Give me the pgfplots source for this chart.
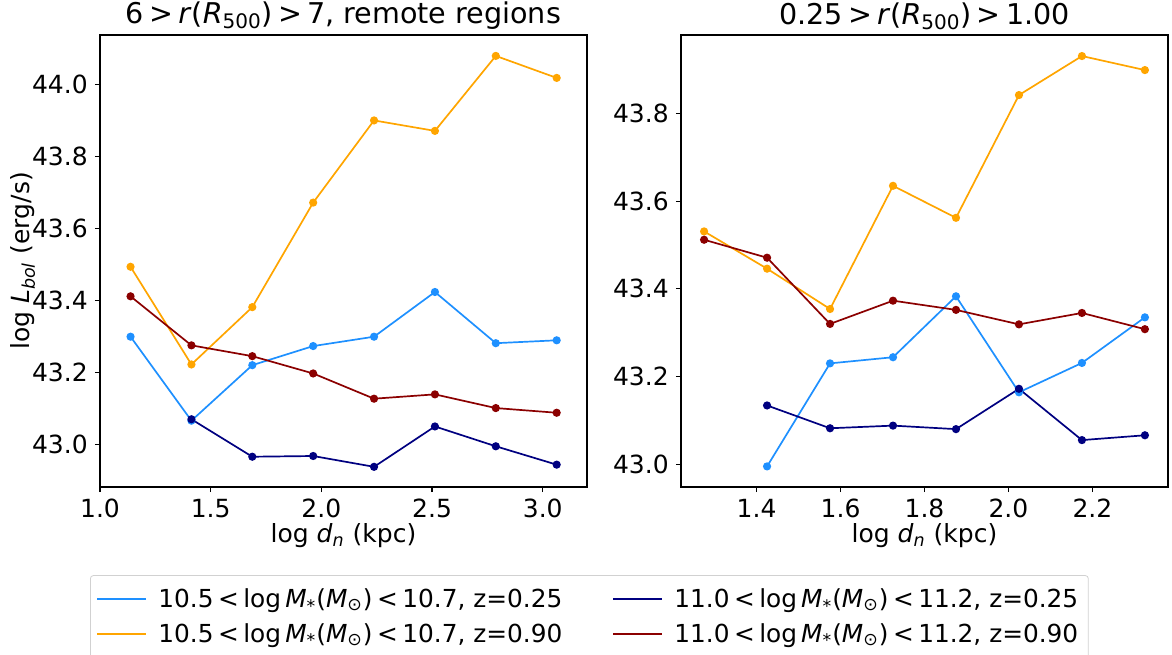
\documentclass[border=0pt]{standalone}
\usepackage{fontspec}
\setmainfont{DejaVu Sans}
\usepackage{pgfplots}
\pgfplotsset{compat=1.18}
\definecolor{cblue}{RGB}{30,144,255}
\definecolor{corange}{RGB}{255,165,0}
\definecolor{cnavy}{RGB}{0,0,128}
\definecolor{cred}{RGB}{139,0,0}
\newcommand{\rel}[1]{\hspace{0.18em}#1\hspace{0.18em}}
\pgfplotsset{
  mystyle/.style={
    scale only axis, width=243.5pt, height=226pt,
    axis line style={line width=0.6pt},
    tick align=outside, xtick pos=left, ytick pos=left,
    major tick length=2.6pt,
    tick style={black, line width=0.6pt},
    tick label style={font=\fontsize{12.5}{15}\selectfont},
    label style={font=\fontsize{12.5}{15}\selectfont},
    title style={font=\fontsize{14.3}{17}\selectfont, yshift=-7pt},
    xlabel style={yshift=4pt},
    /pgf/number format/assume math mode=true,
    xticklabel style={/pgf/number format/.cd,fixed,fixed zerofill,precision=1},
    yticklabel style={/pgf/number format/.cd,fixed,fixed zerofill,precision=1},
    xlabel={log \textit{d}\textsubscript{\textit{n}} (kpc)},
    every axis plot/.append style={line width=0.85pt, mark=*, mark size=1.6pt},
    legend image code/.code={\draw[#1, line width=1pt] (0pt,0pt) -- (24.5pt,0pt); \path[draw=none, fill=none] (0pt,0pt) -- (28.5pt,0pt);},
  }
}
\begin{document}
\begin{tikzpicture}
\useasboundingbox (-50pt,-83.5pt) rectangle (536pt,243.5pt);
\begin{axis}[mystyle,
  xmin=1.0, xmax=3.2, ymin=42.883, ymax=44.137,
  xtick={1.0,1.5,2.0,2.5,3.0},
  ytick={43.0,43.2,43.4,43.6,43.8,44.0},
  title={6\rel{>}\textit{r}(\textit{R}\textsubscript{500})\rel{>}7, remote regions},
  ylabel={log \textit{L}\textsubscript{\textit{bol}} (erg/s)},
  ylabel style={at={(axis description cs:-0.158,0.5)}, anchor=center},
  legend columns=2,
  legend cell align=left,
  legend style={at={(-0.0205,-0.195)}, anchor=north west,
    draw=black!18, rounded corners=1.5pt, inner xsep=3pt, inner ysep=4.5pt,
    font=\fontsize{12.4}{14}\selectfont,
    row sep=2.5pt,
    /tikz/every even column/.append style={column sep=23pt}},
]
\addplot[cblue, mark options={fill=cblue}] coordinates {
(1.138,43.300) (1.413,43.067) (1.688,43.221) (1.963,43.274) (2.238,43.300) (2.513,43.424) (2.788,43.282) (3.063,43.290)};
\addlegendentry{10.5\rel{<}log\,\textit{M}\textsubscript{*}(\textit{M}\textsubscript{⊙})\rel{<}10.7, z=0.25}
\addplot[cnavy, mark options={fill=cnavy}] coordinates {
(1.413,43.071) (1.688,42.967) (1.963,42.969) (2.238,42.939) (2.513,43.051) (2.788,42.996) (3.063,42.945)};
\addlegendentry{11.0\rel{<}log\,\textit{M}\textsubscript{*}(\textit{M}\textsubscript{⊙})\rel{<}11.2, z=0.25}
\addplot[corange, mark options={fill=corange}] coordinates {
(1.138,43.494) (1.413,43.223) (1.688,43.382) (1.963,43.672) (2.238,43.900) (2.513,43.871) (2.788,44.079) (3.063,44.018)};
\addlegendentry{10.5\rel{<}log\,\textit{M}\textsubscript{*}(\textit{M}\textsubscript{⊙})\rel{<}10.7, z=0.90}
\addplot[cred, mark options={fill=cred}] coordinates {
(1.138,43.412) (1.413,43.276) (1.688,43.246) (1.963,43.198) (2.238,43.128) (2.513,43.140) (2.788,43.102) (3.063,43.089)};
\addlegendentry{11.0\rel{<}log\,\textit{M}\textsubscript{*}(\textit{M}\textsubscript{⊙})\rel{<}11.2, z=0.90}
\end{axis}
\begin{axis}[mystyle, at={(290.5pt,0pt)},
  xmin=1.220, xmax=2.380, ymin=42.948, ymax=43.979,
  xtick={1.4,1.6,1.8,2.0,2.2},
  ytick={43.0,43.2,43.4,43.6,43.8},
  title={0.25\rel{>}\textit{r}(\textit{R}\textsubscript{500})\rel{>}1.00},
]
\addplot[cblue, mark options={fill=cblue}] coordinates {
(1.425,42.995) (1.575,43.230) (1.725,43.244) (1.875,43.383) (2.025,43.164) (2.175,43.231) (2.325,43.335)};
\addplot[corange, mark options={fill=corange}] coordinates {
(1.275,43.531) (1.425,43.446) (1.575,43.354) (1.725,43.635) (1.875,43.562) (2.025,43.842) (2.175,43.931) (2.325,43.899)};
\addplot[cnavy, mark options={fill=cnavy}] coordinates {
(1.425,43.134) (1.575,43.082) (1.725,43.088) (1.875,43.080) (2.025,43.172) (2.175,43.055) (2.325,43.066)};
\addplot[cred, mark options={fill=cred}] coordinates {
(1.275,43.512) (1.425,43.471) (1.575,43.320) (1.725,43.373) (1.875,43.352) (2.025,43.319) (2.175,43.345) (2.325,43.308)};
\end{axis}
\end{tikzpicture}
\end{document}
